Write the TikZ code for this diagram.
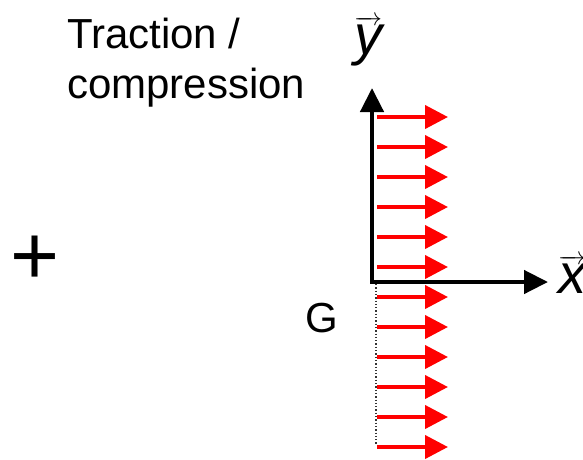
\documentclass[tikz,border=0pt]{standalone}
\usepackage{fontspec}
\setmainfont{Liberation Sans}
\usetikzlibrary{arrows.meta}
\begin{document}
\begin{tikzpicture}[x={(1pt,0pt)},y={(0pt,-1pt)},
        axe/.style={line width=4.5pt,{Triangle[length=24pt,width=23pt]}-{Triangle[length=24pt,width=23pt]}},
        effort/.style={red,line width=4pt,-{Triangle[length=23pt,width=23pt]}},
        txt/.style={inner sep=0pt,font=\fontsize{42}{50}\selectfont},
        vect/.style={inner sep=0pt,anchor=base,font=\fontsize{56}{60}\selectfont}]
        \useasboundingbox (0,0) rectangle (583,459);
        \coordinate (Y) at (372,88);
        \coordinate (X) at (548,282);
        \coordinate (G) at (376,284);
        \coordinate (B) at (376,445);
        \draw[axe] (Y) |- (X);
        \draw[dotted,line width=1.3pt,black!80] (G) -- (B);
        \foreach \k in {0,...,11}{
                \coordinate (a\k) at (377,117+30*\k);
                \draw[effort] (a\k) -- ++(71,0);
        }
        \node[txt,anchor=north west,align=left] (titre) at (67,18) {Traction /\\compression};
        \node[txt] (lblG) at (322,318) {G};
        \node[inner sep=0pt,font=\fontsize{84}{90}\selectfont] (plus) at (35,260) {+};
        \node[vect] (lbly) at (368,54) {$\overrightarrow{\textit{y}}$};
        \node[vect] (lblx) at (572,293) {$\overrightarrow{\textit{x}}$};
\end{tikzpicture}
\end{document}
